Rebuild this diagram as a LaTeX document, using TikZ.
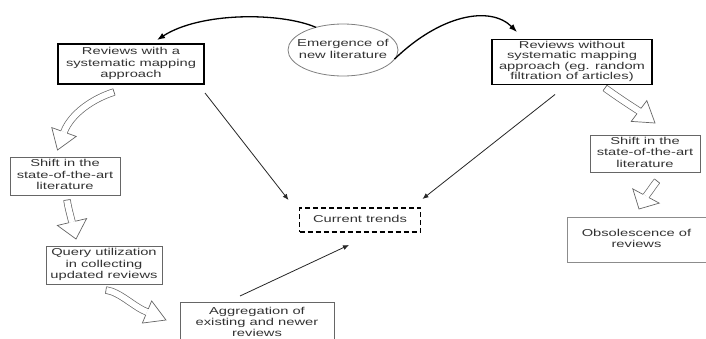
\documentclass[tikz,border=0pt]{standalone}
\usepackage{fontspec}
\setmainfont{Liberation Sans}
\usetikzlibrary{shapes.geometric,arrows.meta,calc}
\newcommand{\bt}[1]{\scalebox{1.47}[1]{\begin{tabular}{@{}c@{}}#1\end{tabular}}}
% hollow block arrow: tail, ctrl1, ctrl2, head base, tip, head half width
\newcommand{\hollowarrow}[6]{%
  \draw[hshaft] (#1) .. controls (#2) and (#3) .. (#4);
  \fill[white] ($(#4)!#6!90:(#5)$) -- (#5) -- ($(#4)!#6!-90:(#5)$) -- cycle;
  \draw[hline] ($(#4)!3.35pt!90:(#5)$) -- ($(#4)!#6!90:(#5)$) -- (#5) -- ($(#4)!#6!-90:(#5)$) -- ($(#4)!3.35pt!-90:(#5)$);
  \draw[hline] ($(#1)!3.35pt!90:(#2)$) -- ($(#1)!3.35pt!-90:(#2)$);
}
\begin{document}
\begin{tikzpicture}[x=1pt,y=-1pt,
  txt/.style={font=\fontsize{10}{11.5}\selectfont, text=black!80, inner sep=0pt, outer sep=0pt},
  thickbox/.style={txt, draw=black, line width=1.8pt},
  thinbox/.style={txt, draw=black!60, line width=0.9pt},
  lightbox/.style={txt, draw=black!45, line width=0.9pt},
  dashbox/.style={txt, draw=black, line width=1.3pt, dash pattern=on 5pt off 3pt},
  hshaft/.style={draw=black!60, line width=0.7pt, double=white, double distance=6pt},
  hline/.style={draw=black!60, line width=0.7pt, line join=miter},
  thinarrow/.style={draw=black!85, line width=0.8pt, -{Latex[length=6pt,width=5pt]}},
  curvearrow/.style={draw=black, line width=1.3pt, -{Latex[length=8pt,width=6pt]}}]
\useasboundingbox[fill=white] (0,0) rectangle (706,338);

% nodes
\node[thickbox, minimum width=146pt, minimum height=40pt] (A) at (131,64) {\bt{Reviews with a\\systematic mapping\\approach}};
\node[thickbox, minimum width=160pt, minimum height=45pt, font=\fontsize{10}{10.5}\selectfont] (B) at (572,62) {\bt{Reviews without\\systematic mapping\\approach (eg. random\\filtration of articles)}};
\node[ellipse, draw=black!50, line width=0.8pt, txt, minimum width=110pt, minimum height=52pt] (E) at (343,50) {\makebox[0pt]{\bt{Emergence of\\new literature}}};
\node[dashbox, minimum width=121pt, minimum height=24pt] (T) at (360,220) {\bt{Current trends}};
\node[thinbox, minimum width=110pt, minimum height=37pt] (C) at (645,153.5) {\bt{Shift in the\\state-of-the-art\\literature}};
\node[lightbox, minimum width=139pt, minimum height=45pt] (D) at (636.5,239.5) {\bt{Obsolescence of\\reviews}};
\node[thinbox, minimum width=110pt, minimum height=38pt] (L1) at (65,176) {\bt{Shift in the\\state-of-the-art\\literature}};
\node[thinbox, minimum width=116pt, minimum height=38pt] (L2) at (104,265) {\bt{Query utilization\\in collecting\\updated reviews}};
\node[thinbox, minimum width=154pt, minimum height=42pt, font=\fontsize{10}{11}\selectfont] (L3) at (257,323) {\bt{Aggregation of\\existing and newer\\reviews}};

% curved arrows from the ellipse
\coordinate (ea) at (157,40);
\coordinate (eb) at (517,32);
\draw[curvearrow] (E.140) .. controls (280,12) and (200,12) .. (ea);
\draw[curvearrow] (E.-10) .. controls (440,15) and (490,5) .. (eb);

% thin arrows to current trends
\draw[thinarrow] ($(A.south east)+(1,9)$) -- ($(T.north west)+(-11,-8)$);
\draw[thinarrow] ($(B.south)+(-17,10)$) -- ($(T.north east)+(2,-9)$);
\draw[thinarrow] ($(L3.north)+(-17,-6)$) -- ($(T.south)+(-11,13)$);

% hollow block arrows
\coordinate (a1) at (114,92);  \coordinate (a1c) at (92,99);  \coordinate (a1d) at (71,114); \coordinate (a1b) at (64,132); \coordinate (a1t) at (57.5,150);
\hollowarrow{a1}{a1c}{a1d}{a1b}{a1t}{13pt}
\coordinate (a2) at (67,200);  \coordinate (a2c) at (68,207); \coordinate (a2d) at (70,214); \coordinate (a2b) at (72,222); \coordinate (a2t) at (76,239);
\hollowarrow{a2}{a2c}{a2d}{a2b}{a2t}{15pt}
\coordinate (a3) at (106,290); \coordinate (a3c) at (120,292); \coordinate (a3d) at (134,307); \coordinate (a3b) at (147,312); \coordinate (a3t) at (166,320);
\hollowarrow{a3}{a3c}{a3d}{a3b}{a3t}{12pt}
\coordinate (a4) at (605,88);  \coordinate (a4c) at (616,96);  \coordinate (a4d) at (628,104); \coordinate (a4b) at (639,111); \coordinate (a4t) at (655,123);
\hollowarrow{a4}{a4c}{a4d}{a4b}{a4t}{13pt}
\coordinate (a5) at (657,181); \coordinate (a5c) at (653,186); \coordinate (a5d) at (650,191); \coordinate (a5b) at (646,196); \coordinate (a5t) at (639,209);
\hollowarrow{a5}{a5c}{a5d}{a5b}{a5t}{15pt}
\end{tikzpicture}
\end{document}
